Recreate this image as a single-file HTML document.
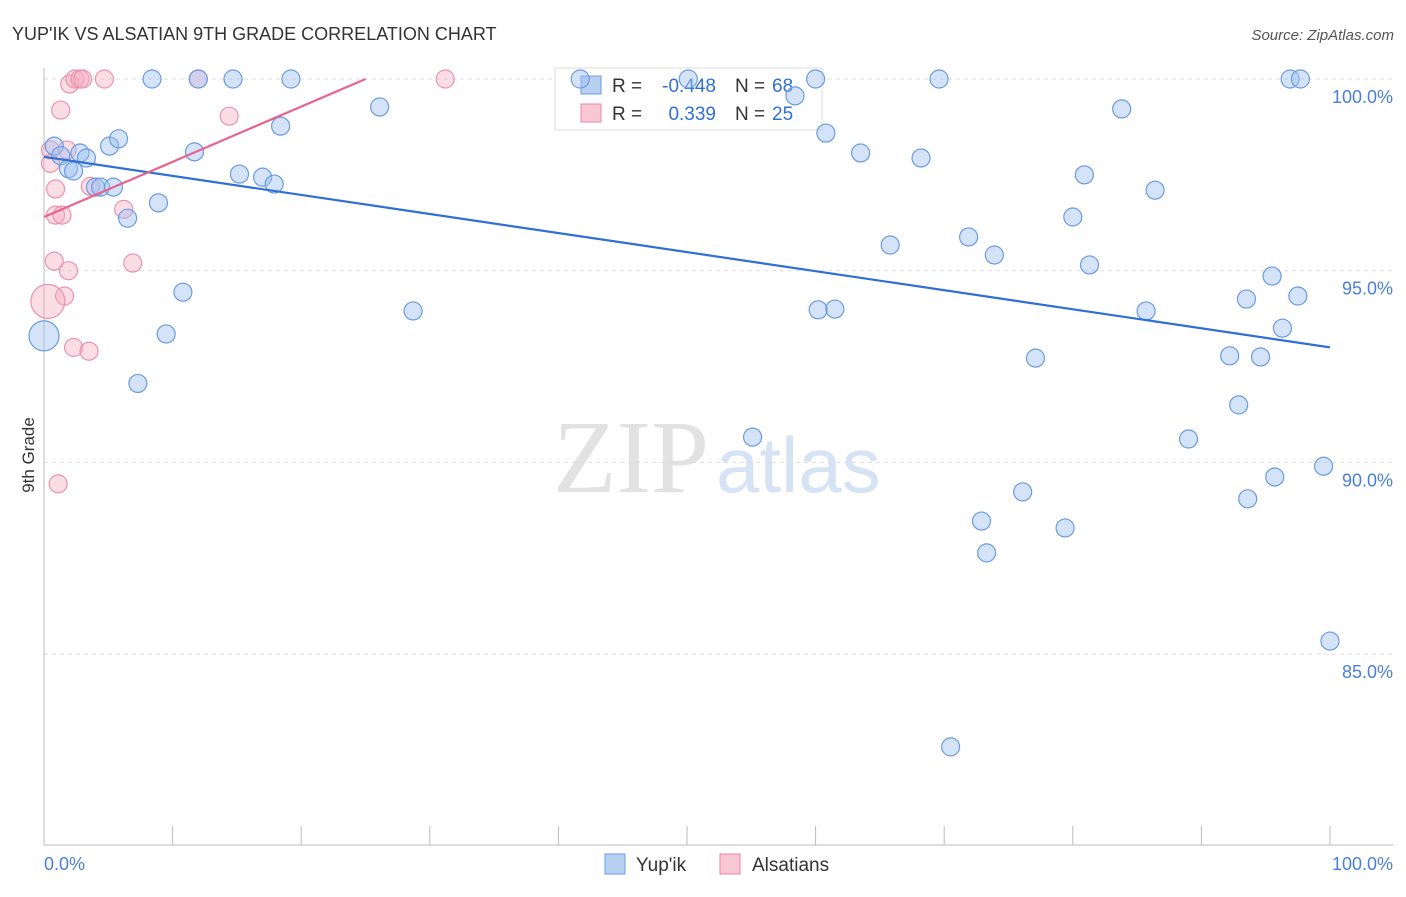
<!DOCTYPE html>
<html><head><meta charset="utf-8"><style>
body{margin:0;background:#fff;font-family:"Liberation Sans",sans-serif;}
</style></head><body>
<svg id="chart" width="1406" height="892" xmlns="http://www.w3.org/2000/svg" font-family="Liberation Sans, sans-serif">
<text x="12" y="40" font-size="18" fill="#333">YUP'IK VS ALSATIAN 9TH GRADE CORRELATION CHART</text>
<text x="1394" y="40" font-size="15" fill="#555" font-style="italic" text-anchor="end">Source: ZipAtlas.com</text>
<g>
<text x="553" y="492" font-size="104" font-family="Liberation Serif, serif" fill="#e2e2e2">ZIP</text>
<text x="716" y="492" font-size="78" fill="#d6e3f5">atlas</text>
</g>
<g id="grid"></g>
<line x1="44" y1="68" x2="44" y2="845" stroke="#bbb"/>
<line x1="44" y1="845" x2="1393" y2="845" stroke="#bbb"/>
<g id="xticks"></g>
<text x="44" y="870" font-size="18" fill="#4a7fd6">0.0%</text>
<text x="1393" y="870" font-size="18" fill="#4a7fd6" text-anchor="end">100.0%</text>
<text transform="translate(34,455) rotate(-90)" font-size="17" fill="#333" text-anchor="middle">9th Grade</text>
<g>
<rect x="555" y="68" width="267" height="62" fill="#fff" stroke="#ddd"/>
<rect x="581" y="76" width="20" height="18" fill="#b8d0f2" stroke="#6a9be0"/>
<text x="612" y="92" font-size="19" fill="#333">R =</text>
<text x="716" y="92" font-size="19" fill="#2f6fd6" text-anchor="end">-0.448</text>
<text x="735" y="92" font-size="19" fill="#333">N =</text>
<text x="772" y="92" font-size="19" fill="#2f6fd6">68</text>
<rect x="581" y="104" width="20" height="18" fill="#f8c6d4" stroke="#e88aa5"/>
<text x="612" y="120" font-size="19" fill="#333">R =</text>
<text x="716" y="120" font-size="19" fill="#2f6fd6" text-anchor="end">0.339</text>
<text x="735" y="120" font-size="19" fill="#333">N =</text>
<text x="772" y="120" font-size="19" fill="#2f6fd6">25</text>
</g>
<g id="pts"></g>
<g id="trend"></g>
<g>
<rect x="605" y="854" width="20" height="20" fill="#b8d0f2" stroke="#6a9be0"/>
<text x="636" y="871" font-size="19" fill="#333">Yup'ik</text>
<rect x="720" y="854" width="20" height="20" fill="#f8c6d4" stroke="#e88aa5"/>
<text x="752" y="871" font-size="19" fill="#333">Alsatians</text>
</g>
</svg>
<script>
const yTicks=[100,95,90,85];
const xTickVals=[0,10,20,30,40,50,60,70,80,90,100];
const blueX=[0.8,1.3,1.9,2.3,2.8,3.3,4.0,4.4,5.1,5.4,5.8,6.5,7.3,8.4,8.9,9.5,10.8,11.7,12.0,14.7,15.2,17.0,17.9,18.4,19.2,26.1,28.7,41.7,50.1,55.1,58.4,60.0,60.2,60.8,61.5,63.5,65.8,68.2,69.6,70.5,71.9,72.9,73.3,73.9,76.1,77.1,79.4,80.0,80.9,81.3,83.8,85.7,86.4,89.0,92.2,92.9,93.5,93.6,94.6,95.5,95.7,96.3,96.9,97.5,97.7,99.5,100,0];
const blueY=[98.25,98.0,97.66,97.6,98.07,97.94,97.18,97.18,98.25,97.18,98.44,96.37,92.06,100,96.77,93.35,94.44,98.1,100,100,97.52,97.44,97.26,98.77,100,99.27,93.95,100,100,90.66,99.56,100,93.98,98.59,94.0,98.07,95.67,97.94,100,82.58,95.88,88.47,87.64,95.41,89.23,92.72,88.29,96.4,97.5,95.15,99.22,93.95,97.1,90.61,92.78,91.5,94.26,89.05,92.75,94.86,89.62,93.5,100,94.34,100,89.9,85.34,93.3];
const blueR=[9,9,9,9,9,9,9,9,9,9,9,9,9,9,9,9,9,9,9,9,9,9,9,9,9,9,9,9,9,9,9,9,9,9,9,9,9,9,9,9,9,9,9,9,9,9,9,9,9,9,9,9,9,9,9,9,9,9,9,9,9,9,9,9,9,9,9,15];
const pinkX=[0.5,0.9,1.3,2.0,2.4,2.8,3.0,4.7,14.4,31.2,12.0,0.5,0.9,1.4,3.6,6.2,0.8,1.9,6.9,1.6,0.3,2.3,3.5,1.1,1.8];
const pinkY=[98.15,97.13,99.19,99.87,100,100,100,100,99.03,100,100,97.8,96.45,96.45,97.2,96.6,95.25,95.0,95.2,94.34,94.2,93.0,92.9,89.44,98.15];
const pinkR=[9,9,9,9,9,9,9,9,9,9,9,9,9,9,9,9,9,9,9,9,17,9,9,9,9];
const blueTrend=[[0,97.97],[100,93.0]];
const pinkTrend=[[0,96.4],[25,100]];
const NS="http://www.w3.org/2000/svg";
const sx=v=>44+v*12.86;
const sy=v=>79+(100-v)*38.34;
function mk(t,a,p){const e=document.createElementNS(NS,t);for(const k in a)e.setAttribute(k,a[k]);p.appendChild(e);return e;}
const grid=document.getElementById('grid');
yTicks.forEach(t=>{
 const l=mk('line',{x1:44,x2:1393,y1:sy(t),y2:sy(t),stroke:'#ddd','stroke-dasharray':'4,4'},grid);
 
 
 const tx=mk('text',{x:1393,y:sy(t)+24,'font-size':18,fill:'#4a7fd6','text-anchor':'end'},grid);
 tx.textContent=t.toFixed(1)+'%';
 
 
});
const xt=document.getElementById('xticks');
xTickVals.forEach(t=>{
 const l=mk('line',{x1:sx(t),x2:sx(t),y1:826,y2:845,stroke:'#bbb'},xt);
 
 
});
const pts=document.getElementById('pts');
pinkX.forEach((x,i)=>{
 const c=mk('circle',{cx:sx(x),cy:sy(pinkY[i]),r:pinkR[i],fill:'rgba(246,170,192,0.4)',stroke:'#eb93ad','stroke-width':1.2},pts);
 
 
});
blueX.forEach((x,i)=>{
 const c=mk('circle',{cx:sx(x),cy:sy(blueY[i]),r:blueR[i],fill:'rgba(160,194,240,0.45)',stroke:'#6a9be0','stroke-width':1.2},pts);
 
 
});
const tr=document.getElementById('trend');
const bl=mk('line',{x1:sx(blueTrend[0][0]),y1:sy(blueTrend[0][1]),x2:sx(blueTrend[1][0]),y2:sy(blueTrend[1][1]),stroke:'#2f6fd6','stroke-width':2.2},tr);


const pl=mk('line',{x1:sx(pinkTrend[0][0]),y1:sy(pinkTrend[0][1]),x2:sx(pinkTrend[1][0]),y2:sy(pinkTrend[1][1]),stroke:'#e8648e','stroke-width':2.2},tr);


</script>
</body></html>
